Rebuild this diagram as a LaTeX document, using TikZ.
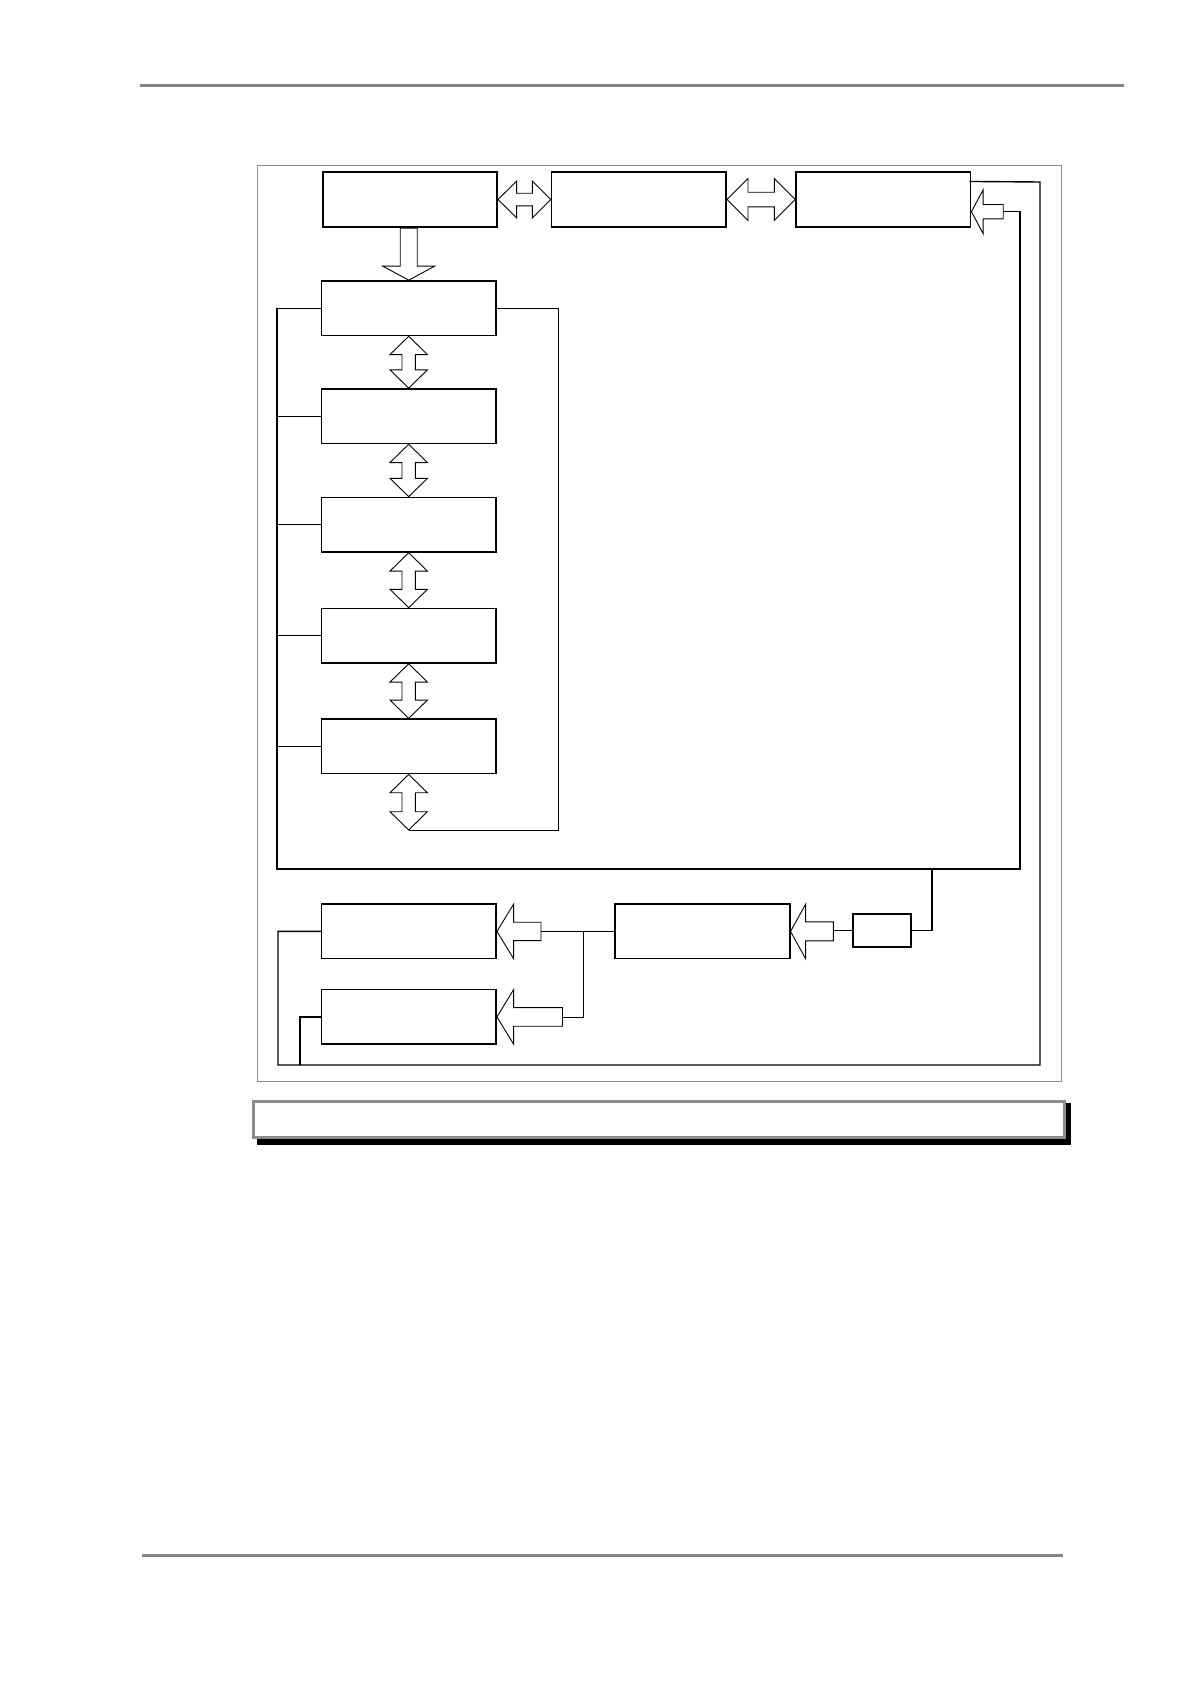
\documentclass[tikz,border=0pt]{standalone}
\usetikzlibrary{calc}
\definecolor{framegray}{HTML}{8C8C8C}
\definecolor{rulegray}{HTML}{858585}
\newcommand\dharrow[5]{\draw[blk] (#1) -- ++(#3,-#4) -- ++(0,#4-#5) -- ($(#2)+(-#3,-#5)$) -- ++(0,#5-#4) -- (#2) -- ++(-#3,#4) -- ++(0,#5-#4) -- ($(#1)+(#3,#5)$) -- ++(0,#4-#5) -- cycle;}
\newcommand\dvarrow[5]{\draw[blk] (#1) -- ++(#4,#3) -- ++(#5-#4,0) -- ($(#2)+(#5,-#3)$) -- ++(#4-#5,0) -- (#2) -- ++(-#4,-#3) -- ++(#4-#5,0) -- ($(#1)+(-#5,#3)$) -- ++(#5-#4,0) -- cycle;}
\newcommand\lftarrow[5]{\draw[blk] (#1) -- ++(#2,-#3) -- ++(0,#3-#4) -- ++(#5-#2,0) -- ++(0,2*#4) -- ++(#2-#5,0) -- ++(0,#3-#4) -- cycle;}
\newcommand\dwnarrow[5]{\draw[blk] (#1) -- ++(-#3,-#2) -- ++(#3-#4,0) -- ++(0,#2-#5) -- ++(2*#4,0) -- ++(0,#5-#2) -- ++(#3-#4,0) -- cycle;}
\begin{document}
\begin{tikzpicture}[x=1pt,y=-1pt,
  box/.style={draw,line width=1.6pt,minimum width=174.5pt,minimum height=54.5pt,inner sep=0pt,fill=white},
  blk/.style={draw,line width=0.9pt,fill=white,line join=miter},
  thickln/.style={line width=1.4pt},
  thinln/.style={line width=0.8pt}]
\useasboundingbox (0,0) rectangle (1191,1684);
\fill[white] (0,0) rectangle (1191,1684);
% page rules
\draw[rulegray,line width=2.7pt] (140,85.3) -- (1123.7,85.3);
\draw[rulegray,line width=2.7pt] (142,1555.3) -- (1063,1555.3);
% frame
\draw[framegray,line width=1pt] (257.3,165.7) rectangle (1061,1081.7);
% caption box
\fill[black] (257,1103) rectangle (1070.7,1144.5);
\draw[framegray,line width=3pt,fill=white] (253.8,1101.5) rectangle (1064.5,1137.5);
% boxes
\node[box] (A) at (410,199.5) {};
\node[box] (B) at (638.9,199.5) {};
\node[box] (B3) at (883.4,199.5) {};
\node[box] (C1) at (408.7,308.2) {};
\node[box] (C2) at (408.7,416.2) {};
\node[box] (C3) at (408.7,524.7) {};
\node[box] (C4) at (408.7,635.7) {};
\node[box] (C5) at (408.7,746.4) {};
\node[box] (D1) at (408.9,931.4) {};
\node[box] (D2) at (408.9,1016.9) {};
\node[box] (E) at (702.5,931.4) {};
\node[box,minimum width=58.3pt,minimum height=33pt] (F) at (881.9,930.6) {};
% coordinates
\coordinate (lbot) at (277,869);
\coordinate (rbot) at (1020,869);
\coordinate (b3t) at ($(B3.east)+(31.8,12.2)$);
\coordinate (c5b) at (408.7,830);
\coordinate (rb) at (558.3,830);
\coordinate (fb) at (932,869);
\coordinate (etail) at ($(E.east)+(42.8,0)$);
\coordinate (d1t) at ($(D1.east)+(44,0)$);
\coordinate (d2t) at ($(D2.east)+(65.5,0)$);
\coordinate (j) at (583.7,931.4);
\coordinate (ol) at ($(B3.north east)+(-2,10)$);
\coordinate (otr) at (1040,182);
\coordinate (obr) at (1040,1065);
\coordinate (obl) at (278,1065);
\coordinate (obm) at (300,1065);
% connectors
\draw[thickln] (C1.west) -| (lbot) -- (rbot) |- (b3t);
\draw[thickln] (C2.west) -- (C2.west -| lbot);
\draw[thickln] (C3.west) -- (C3.west -| lbot);
\draw[thickln] (C4.west) -- (C4.west -| lbot);
\draw[thinln] (C5.west) -- (C5.west -| lbot);
\draw[thinln] (C1.east) -| (rb) -- (c5b);
\draw[thickln] (fb) |- (F.east);
\draw[thickln] (F.west) -- (F.west -| etail);
\draw[thinln] (E.west) -- (d1t);
\draw[thinln] (j) |- (d2t);
\draw[thickln] (ol) -- (otr) -- (obr) -- (obl) |- (D1.west);
\draw[thickln] (obm) |- (D2.west);
% block arrows
\dharrow{A.east}{B.west}{18.5}{18.3}{6.3}
\dharrow{B.east}{B3.west}{21}{21}{7.3}
\dwnarrow{C1.north}{14}{26}{8.5}{52}
\dvarrow{C1.south}{C2.north}{18.3}{18.7}{6.7}
\dvarrow{C2.south}{C3.north}{18.3}{18.7}{6.7}
\dvarrow{C3.south}{C4.north}{18.3}{18.7}{6.7}
\dvarrow{C4.south}{C5.north}{18.3}{18.7}{6.7}
\dvarrow{C5.south}{c5b}{18.3}{18.7}{6.7}
\lftarrow{$(B3.east)+(0,12.2)$}{11.6}{21.8}{7.2}{31.8}
\lftarrow{E.east}{15}{27.2}{9.5}{42.8}
\lftarrow{D1.east}{16.6}{27.2}{9.2}{44}
\lftarrow{D2.east}{16.6}{27.2}{9.3}{65.5}
\end{tikzpicture}
\end{document}
